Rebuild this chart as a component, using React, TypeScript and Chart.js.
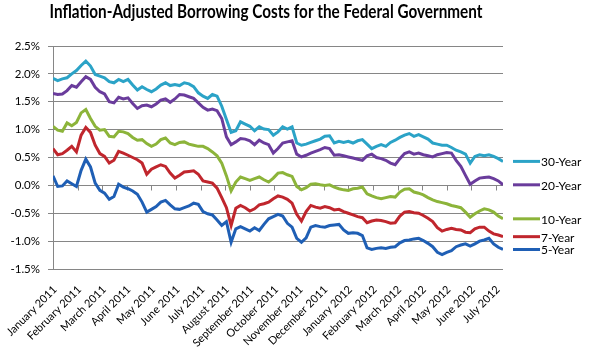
import React, { useEffect, useRef } from 'react';
import { Chart, registerables } from 'chart.js';

Chart.register(...registerables);

const TITLE = 'Inflation-Adjusted Borrowing Costs for the Federal Government';

const MONTH_LABELS = [
  'January 2011', 'February 2011', 'March 2011', 'April 2011', 'May 2011', 'June 2011',
  'July 2011', 'August 2011', 'September 2011', 'October 2011', 'November 2011', 'December 2011',
  'January 2012', 'February 2012', 'March 2012', 'April 2012', 'May 2012', 'June 2012', 'July 2012',
];
// trading-day index where each month label / tick mark sits
const MONTH_TICK_DAYS = [0, 21, 42, 63, 84, 105, 126, 147, 168, 189, 210, 231, 252, 273, 294, 315, 336, 357, 378];
const LAST_DAY = 384;
const SAMPLE_STEP = 4; // trading days between samples

const Y_MIN = -1.5;
const Y_MAX = 2.5;
const Y_STEP = 0.5;
const AXIS_CROSS = 0; // horizontal axis crosses the value axis at 0%

const SERIES_NAMES = ['30-Year', '20-Year', '10-Year', '7-Year', '5-Year'];
const SERIES_COLORS = ['#2ba3c7', '#6a3c9c', '#8cb43a', '#c0262d', '#1f5fb5'];

const YIELD_30 = [1.92, 1.88, 1.91, 1.93, 2.00, 2.06, 2.15, 2.23, 2.14, 1.99, 1.96, 1.93, 1.86, 1.84, 1.90, 1.86, 1.90, 1.80, 1.71, 1.77, 1.72, 1.68, 1.73, 1.80, 1.84, 1.79, 1.81, 1.79, 1.84, 1.82, 1.77, 1.66, 1.60, 1.56, 1.63, 1.60, 1.42, 1.18, 0.95, 0.98, 1.14, 1.10, 1.06, 0.98, 1.05, 1.01, 1.00, 0.90, 0.96, 1.05, 1.01, 1.05, 0.76, 0.72, 0.74, 0.77, 0.80, 0.83, 0.88, 0.89, 0.76, 0.79, 0.77, 0.79, 0.76, 0.80, 0.82, 0.74, 0.66, 0.70, 0.73, 0.70, 0.77, 0.81, 0.86, 0.90, 0.93, 0.88, 0.91, 0.87, 0.83, 0.76, 0.74, 0.72, 0.72, 0.68, 0.63, 0.60, 0.56, 0.40, 0.52, 0.55, 0.53, 0.55, 0.52, 0.48, 0.43];
const YIELD_20 = [1.65, 1.63, 1.64, 1.70, 1.79, 1.76, 1.86, 1.95, 1.90, 1.76, 1.68, 1.64, 1.50, 1.48, 1.58, 1.55, 1.57, 1.47, 1.38, 1.43, 1.44, 1.41, 1.46, 1.53, 1.55, 1.49, 1.55, 1.63, 1.62, 1.59, 1.56, 1.48, 1.40, 1.35, 1.37, 1.34, 1.20, 0.87, 0.73, 0.78, 0.84, 0.83, 0.80, 0.73, 0.81, 0.76, 0.73, 0.58, 0.66, 0.76, 0.78, 0.80, 0.56, 0.51, 0.54, 0.58, 0.61, 0.64, 0.68, 0.66, 0.54, 0.55, 0.53, 0.51, 0.49, 0.47, 0.45, 0.53, 0.56, 0.50, 0.48, 0.45, 0.40, 0.37, 0.48, 0.57, 0.60, 0.56, 0.58, 0.55, 0.53, 0.51, 0.55, 0.57, 0.59, 0.58, 0.45, 0.34, 0.18, 0.02, 0.08, 0.13, 0.14, 0.15, 0.12, 0.08, 0.01];
const YIELD_10 = [1.06, 0.99, 0.97, 1.12, 1.07, 1.13, 1.30, 1.36, 1.20, 1.06, 0.99, 1.00, 0.88, 0.87, 0.97, 0.96, 0.93, 0.86, 0.81, 0.82, 0.75, 0.70, 0.74, 0.82, 0.85, 0.76, 0.73, 0.77, 0.78, 0.74, 0.72, 0.70, 0.70, 0.66, 0.60, 0.53, 0.40, 0.17, -0.10, 0.06, 0.15, 0.12, 0.09, 0.12, 0.15, 0.10, 0.06, 0.13, 0.22, 0.23, 0.19, 0.16, -0.02, -0.08, -0.04, 0.02, 0.03, 0.01, 0.00, 0.01, -0.03, -0.06, -0.08, -0.09, -0.06, -0.05, -0.03, -0.15, -0.19, -0.22, -0.24, -0.22, -0.20, -0.21, -0.12, -0.07, -0.06, -0.12, -0.14, -0.17, -0.22, -0.26, -0.29, -0.31, -0.33, -0.36, -0.38, -0.40, -0.48, -0.57, -0.51, -0.46, -0.42, -0.44, -0.48, -0.55, -0.60];
const YIELD_7 = [0.66, 0.55, 0.57, 0.63, 0.70, 0.60, 0.90, 1.04, 0.95, 0.72, 0.57, 0.52, 0.40, 0.45, 0.61, 0.58, 0.54, 0.50, 0.46, 0.40, 0.20, 0.29, 0.33, 0.37, 0.34, 0.22, 0.13, 0.18, 0.24, 0.25, 0.26, 0.20, 0.08, 0.06, 0.04, -0.05, -0.22, -0.40, -0.72, -0.41, -0.36, -0.40, -0.46, -0.42, -0.35, -0.33, -0.30, -0.24, -0.19, -0.21, -0.25, -0.32, -0.52, -0.64, -0.47, -0.36, -0.39, -0.41, -0.38, -0.40, -0.44, -0.43, -0.47, -0.50, -0.53, -0.56, -0.58, -0.67, -0.64, -0.62, -0.63, -0.65, -0.68, -0.67, -0.55, -0.48, -0.47, -0.49, -0.50, -0.54, -0.59, -0.65, -0.76, -0.82, -0.79, -0.77, -0.79, -0.80, -0.84, -0.85, -0.78, -0.75, -0.75, -0.82, -0.87, -0.89, -0.92];
const YIELD_5 = [0.17, -0.02, -0.01, 0.08, 0.03, -0.02, 0.27, 0.47, 0.33, 0.04, -0.09, -0.14, -0.25, -0.20, 0.02, -0.03, -0.06, -0.10, -0.16, -0.30, -0.48, -0.43, -0.38, -0.30, -0.27, -0.35, -0.42, -0.43, -0.40, -0.37, -0.32, -0.34, -0.47, -0.51, -0.53, -0.62, -0.72, -0.65, -1.02, -0.78, -0.74, -0.78, -0.82, -0.76, -0.81, -0.70, -0.60, -0.56, -0.52, -0.55, -0.68, -0.75, -0.95, -1.02, -0.94, -0.75, -0.72, -0.74, -0.75, -0.72, -0.71, -0.70, -0.80, -0.86, -0.85, -0.86, -0.90, -1.12, -1.15, -1.13, -1.12, -1.13, -1.11, -1.10, -1.03, -0.99, -0.98, -0.96, -0.95, -0.99, -1.04, -1.10, -1.20, -1.24, -1.20, -1.17, -1.10, -1.07, -1.05, -1.09, -1.05, -1.00, -0.98, -0.95, -1.05, -1.11, -1.15];

const SERIES_VALUES = [YIELD_30, YIELD_20, YIELD_10, YIELD_7, YIELD_5];

const GRID = '#868686';
const FONT = 'Lato, "Open Sans", sans-serif';

const titlePlugin = {
  id: 'fixedTitle',
  afterDraw(chart: any) {
    const ctx = chart.ctx;
    ctx.save();
    ctx.font = `bold 18px ${FONT}`;
    const w = ctx.measureText(TITLE).width;
    const sx = 433 / w;
    ctx.translate(266, 18);
    ctx.scale(sx, 1);
    ctx.textAlign = 'center';
    ctx.textBaseline = 'alphabetic';
    ctx.fillStyle = '#000';
    ctx.fillText(TITLE, 0, 0);
    ctx.restore();
  },
};

// tick marks of the horizontal axis, which crosses at 0%
const crossTicksPlugin = {
  id: 'crossTicks',
  beforeDatasetsDraw(chart: any) {
    const ctx = chart.ctx;
    const xs = chart.scales.x;
    const ys = chart.scales.y;
    const y0 = Math.round(ys.getPixelForValue(AXIS_CROSS)) + 0.5;
    ctx.save();
    ctx.strokeStyle = GRID;
    ctx.lineWidth = 1;
    ctx.beginPath();
    MONTH_TICK_DAYS.forEach((d) => {
      const px = Math.round(xs.getPixelForValue(d)) + 0.5;
      ctx.moveTo(px, y0);
      ctx.lineTo(px, y0 + 5);
    });
    ctx.stroke();
    ctx.restore();
  },
};

const endLabelPlugin = {
  id: 'endLabels',
  afterDatasetsDraw(chart: any) {
    const ctx = chart.ctx;
    const right = chart.chartArea.right;
    chart.data.datasets.forEach((ds: any, i: number) => {
      const meta = chart.getDatasetMeta(i);
      const pt = meta.data[meta.data.length - 1];
      if (!pt) return;
      const y = pt.y;
      ctx.save();
      ctx.strokeStyle = ds.borderColor;
      ctx.lineWidth = 3;
      ctx.beginPath();
      ctx.moveTo(right + 10, y);
      ctx.lineTo(right + 37, y);
      ctx.stroke();
      ctx.font = `12px ${FONT}`;
      ctx.fillStyle = '#000';
      ctx.textAlign = 'left';
      ctx.textBaseline = 'middle';
      ctx.fillText(ds.label, right + 38, y + 1);
      ctx.restore();
    });
  },
};

export default function App() {
  const ref = useRef<HTMLCanvasElement>(null);

  useEffect(() => {
    if (!ref.current) return;
    const datasets = SERIES_NAMES.map((name, s) => ({
      label: name,
      data: SERIES_VALUES[s].map((v, k) => ({ x: k * SAMPLE_STEP, y: v })),
      borderColor: SERIES_COLORS[s],
      backgroundColor: SERIES_COLORS[s],
      borderWidth: 3,
      pointRadius: 0,
      tension: 0,
      fill: false,
    }));
    const chart = new Chart(ref.current, {
      type: 'line',
      data: { datasets },
      options: {
        animation: false,
        responsive: false,
        maintainAspectRatio: false,
        layout: { padding: { top: 46, right: 91, bottom: 0, left: 0 } },
        plugins: {
          legend: { display: false },
          title: { display: false },
          tooltip: { enabled: false },
        },
        scales: {
          x: {
            type: 'linear',
            position: 'bottom',
            min: 0,
            max: LAST_DAY,
            afterBuildTicks: (axis: any) => {
              axis.ticks = MONTH_TICK_DAYS.map((v) => ({ value: v }));
            },
            afterFit: (s: any) => { s.height = 88; },
            grid: { display: false },
            border: { display: false },
            ticks: {
              autoSkip: false,
              maxRotation: 45,
              minRotation: 45,
              labelOffset: 2,
              padding: 6,
              color: '#000',
              font: { family: FONT, size: 11 },
              callback: (_v: any, i: number) => MONTH_LABELS[i],
            },
          },
          y: {
            type: 'linear',
            position: 'left',
            min: Y_MIN,
            max: Y_MAX,
            afterFit: (s: any) => { s.width = 53; },
            grid: { color: GRID, tickLength: 5, drawTicks: true },
            border: { display: true, color: GRID },
            ticks: {
              stepSize: Y_STEP,
              padding: 8,
              color: '#000',
              font: { family: FONT, size: 11.5 },
              callback: (v: any) => `${Number(v).toFixed(1)}%`,
            },
          },
        },
      } as any,
      plugins: [titlePlugin, crossTicksPlugin, endLabelPlugin],
    });
    return () => chart.destroy();
  }, []);

  return (
    <div style={{ position: 'fixed', left: 0, top: 0, width: 594, height: 357, background: '#fff' }}>
      <canvas ref={ref} width={594} height={357} style={{ display: 'block' }} />
    </div>
  );
}
